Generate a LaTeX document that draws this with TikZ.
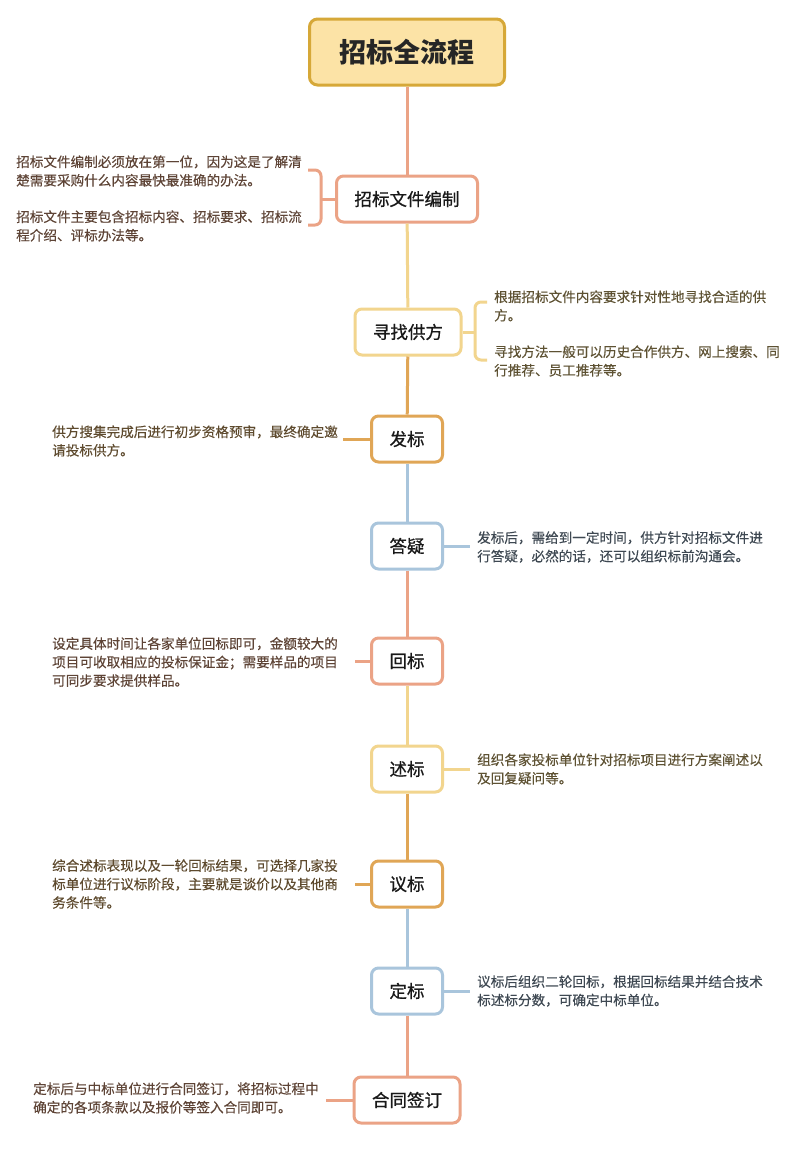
\documentclass[tikz,border=0pt]{standalone}
\usepackage{fontspec}
\setmainfont{Noto Sans CJK SC}
\newfontfamily\medfont{Noto Sans CJK SC}[FakeBold=0.8]
\newfontfamily\sidefont{Noto Sans CJK SC}[FakeBold=0.25]
\definecolor{cS}{HTML}{EBA386}
\definecolor{cY}{HTML}{F2D58E}
\definecolor{cO}{HTML}{E0A656}
\definecolor{cB}{HTML}{A9C5DC}
\definecolor{tS}{HTML}{5E4436}
\definecolor{tY}{HTML}{5E5233}
\definecolor{tO}{HTML}{5E4A2E}
\definecolor{tB}{HTML}{3E4852}
\definecolor{titlefill}{HTML}{FCE3A6}
\definecolor{titledraw}{HTML}{D6A838}
\begin{document}
\begin{tikzpicture}[x=1pt,y=-1pt,
  box/.style={draw, line width=3pt, rounded corners=7pt, fill=white,
    minimum height=46pt, inner xsep=18pt,
    font=\medfont\fontsize{17.5}{20}\selectfont, text=black!90},
  titlebox/.style={draw=titledraw, fill=titlefill, line width=3pt, rounded corners=8pt,
    minimum height=66pt, minimum width=195pt,
    font=\fontsize{27}{30}\selectfont\bfseries, text=black!85},
  side/.style={align=left, inner sep=0pt, font=\sidefont\fontsize{13.6}{18.5}\selectfont},
  conn/.style={line width=3pt},
  brace/.style={line width=3pt, rounded corners=6pt},
]
\useasboundingbox (0,0) rectangle (800,1159);
\fill[white] (0,0) rectangle (800,1159);

% main nodes
\node[titlebox] (title) at (407,52) {招标全流程};
\node[box, draw=cS] (n1) at (407,199) {招标文件编制};
\node[box, draw=cY] (n2) at (408,332) {寻找供方};
\node[box, draw=cO] (n3) at (407,439) {发标};
\node[box, draw=cB] (n4) at (407,546) {答疑};
\node[box, draw=cS] (n5) at (407,661) {回标};
\node[box, draw=cY] (n6) at (407,769) {述标};
\node[box, draw=cO] (n7) at (407,884) {议标};
\node[box, draw=cB] (n8) at (407,991) {定标};
\node[box, draw=cS] (n9) at (407,1100) {合同签订};

% main connectors
\draw[conn, cS] (title) -- (n1);
\draw[conn, cY] (n1) -- (n2);
\draw[conn, cO] (n2) -- (n3);
\draw[conn, cB] (n3) -- (n4);
\draw[conn, cS] (n4) -- (n5);
\draw[conn, cY] (n5) -- (n6);
\draw[conn, cO] (n6) -- (n7);
\draw[conn, cB] (n7) -- (n8);
\draw[conn, cS] (n8) -- (n9);

% side texts
\node[side, anchor=west, text=tS] (t1a) at (16,171) {招标文件编制必须放在第一位，因为这是了解清\\楚需要采购什么内容最快最准确的办法。};
\node[side, anchor=west, text=tS] (t1b) at (16,226) {招标文件主要包含招标内容、招标要求、招标流\\程介绍、评标办法等。};
\node[side, anchor=west, text=tY] (t2a) at (494,306) {根据招标文件内容要求针对性地寻找合适的供\\方。};
\node[side, anchor=west, text=tY] (t2b) at (494,361) {寻找方法一般可以历史合作供方、网上搜索、同\\行推荐、员工推荐等。};
\node[side, anchor=west, text=tO] (t3) at (52,441) {供方搜集完成后进行初步资格预审，最终确定邀\\请投标供方。};
\node[side, anchor=west, text=tB] (t4) at (477,547) {发标后，需给到一定时间，供方针对招标文件进\\行答疑，必然的话，还可以组织标前沟通会。};
\node[side, anchor=west, text=tS] (t5) at (52,662) {设定具体时间让各家单位回标即可，金额较大的\\项目可收取相应的投标保证金；需要样品的项目\\可同步要求提供样品。};
\node[side, anchor=west, text=tY] (t6) at (477,769) {组织各家投标单位针对招标项目进行方案阐述以\\及回复疑问等。};
\node[side, anchor=west, text=tO] (t7) at (52,884) {综合述标表现以及一轮回标结果，可选择几家投\\标单位进行议标阶段，主要就是谈价以及其他商\\务条件等。};
\node[side, anchor=west, text=tB] (t8) at (477,991) {议标后组织二轮回标，根据回标结果并结合技术\\标述标分数，可确定中标单位。};
\node[side, anchor=west, text=tS] (t9) at (33,1098) {定标后与中标单位进行合同签订，将招标过程中\\确定的各项条款以及报价等签入合同即可。};

% braces
\coordinate (b1top) at (308,170);
\coordinate (b1bot) at (308,225);
\draw[brace, cS] (b1top) -- (321,170) -- (321,225) -- (b1bot);
\draw[conn, cS] (n1.west) -- (321,199);

\coordinate (b2top) at (487,302);
\coordinate (b2bot) at (487,360);
\draw[brace, cY] (b2top) -- (475,302) -- (475,360) -- (b2bot);
\draw[conn, cY] (n2.east) -- (475,332);

% stubs
\coordinate (s3) at (343,439);
\draw[conn, cO] (n3.west) -- (s3);
\coordinate (s4) at (470,546);
\draw[conn, cB] (n4.east) -- (s4);
\coordinate (s5) at (355,661);
\draw[conn, cS] (n5.west) -- (s5);
\coordinate (s6) at (470,769);
\draw[conn, cY] (n6.east) -- (s6);
\coordinate (s7) at (355,884);
\draw[conn, cO] (n7.west) -- (s7);
\coordinate (s8) at (470,991);
\draw[conn, cB] (n8.east) -- (s8);
\coordinate (s9) at (326,1100);
\draw[conn, cS] (n9.west) -- (s9);
\end{tikzpicture}
\end{document}
